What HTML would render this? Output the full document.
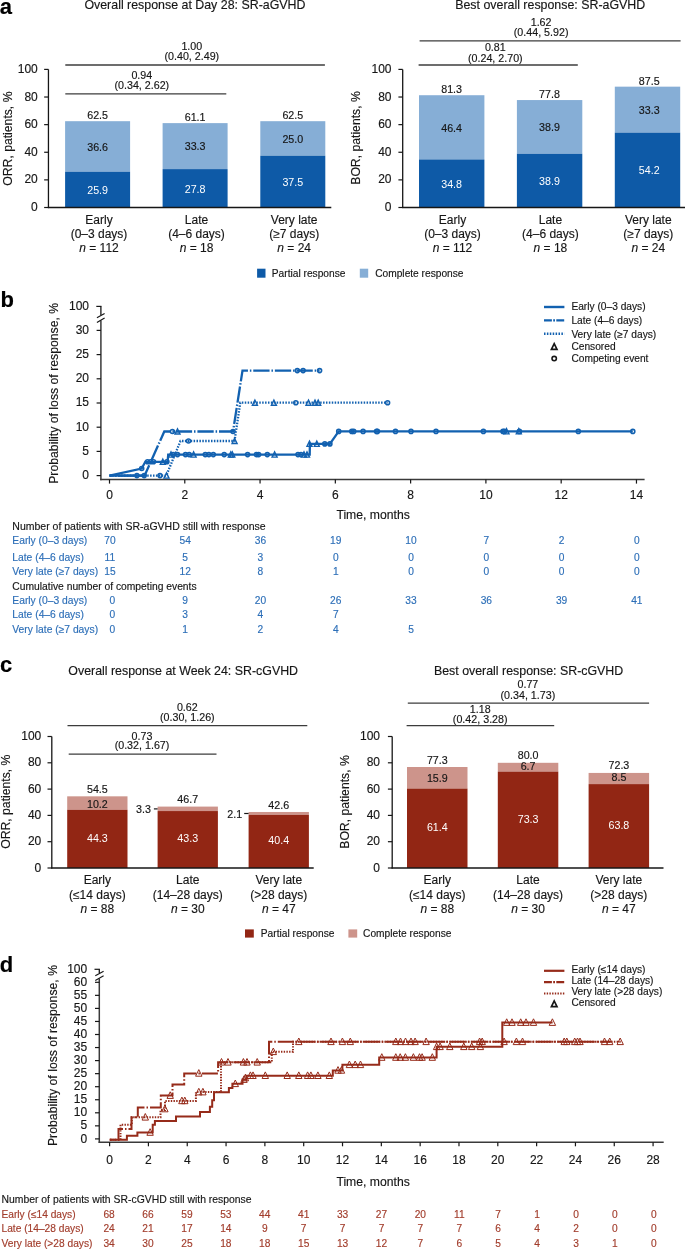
<!DOCTYPE html>
<html><head><meta charset="utf-8"><title>Figure</title>
<style>
html,body{margin:0;padding:0;background:#fff;width:685px;height:1249px;overflow:hidden}
svg{display:block;will-change:transform}
text{font-family:"Liberation Sans", sans-serif;stroke-width:0.15px}
</style></head><body>
<svg width="685" height="1249" viewBox="0 0 685 1249" font-family='"Liberation Sans", sans-serif'>
<rect width="685" height="1249" fill="#fff"/>
<text x="-0.2" y="13.9" font-size="22" font-weight="bold" fill="#000" stroke="#000">a</text>
<text x="84.4" y="9.1" font-size="12.4" fill="#161616" stroke="#161616">Overall response at Day 28: SR-aGVHD</text>
<line x1="48.45" y1="69.4" x2="48.45" y2="208.1" stroke="#161616" stroke-width="1.3"/>
<line x1="44.15" y1="207.5" x2="48.45" y2="207.5" stroke="#161616" stroke-width="1.2"/>
<text x="37.8" y="211.1" font-size="12" text-anchor="end" fill="#161616" stroke="#161616">0</text>
<line x1="44.15" y1="179.88" x2="48.45" y2="179.88" stroke="#161616" stroke-width="1.2"/>
<text x="37.8" y="183.48" font-size="12" text-anchor="end" fill="#161616" stroke="#161616">20</text>
<line x1="44.15" y1="152.26" x2="48.45" y2="152.26" stroke="#161616" stroke-width="1.2"/>
<text x="37.8" y="155.86" font-size="12" text-anchor="end" fill="#161616" stroke="#161616">40</text>
<line x1="44.15" y1="124.64" x2="48.45" y2="124.64" stroke="#161616" stroke-width="1.2"/>
<text x="37.8" y="128.24" font-size="12" text-anchor="end" fill="#161616" stroke="#161616">60</text>
<line x1="44.15" y1="97.02" x2="48.45" y2="97.02" stroke="#161616" stroke-width="1.2"/>
<text x="37.8" y="100.62" font-size="12" text-anchor="end" fill="#161616" stroke="#161616">80</text>
<line x1="44.15" y1="69.4" x2="48.45" y2="69.4" stroke="#161616" stroke-width="1.2"/>
<text x="37.8" y="73" font-size="12" text-anchor="end" fill="#161616" stroke="#161616">100</text>
<text transform="translate(12 138.6) rotate(-90)" font-size="12.2" text-anchor="middle" fill="#161616" stroke="#161616">ORR, patients, %</text>
<rect x="65.1" y="121.19" width="65" height="50.54" fill="#86aed6"/>
<rect x="65.1" y="171.73" width="65" height="35.77" fill="#0e5aa7"/>
<rect x="162.6" y="123.12" width="65" height="45.99" fill="#86aed6"/>
<rect x="162.6" y="169.11" width="65" height="38.39" fill="#0e5aa7"/>
<rect x="260.3" y="121.19" width="65" height="34.52" fill="#86aed6"/>
<rect x="260.3" y="155.71" width="65" height="51.79" fill="#0e5aa7"/>
<line x1="47.85" y1="207.5" x2="331.3" y2="207.5" stroke="#161616" stroke-width="1.3"/>
<text transform="matrix(1.030 0 0 1 97.6 119.19)" font-size="10.4" text-anchor="middle" fill="#161616" stroke="#161616">62.5</text>
<text transform="matrix(1.030 0 0 1 97.6 150.66)" font-size="10.4" text-anchor="middle" fill="#161616" stroke="#161616">36.6</text>
<text transform="matrix(1.030 0 0 1 97.6 193.92)" font-size="10.4" text-anchor="middle" fill="#ffffff" stroke="#ffffff" style="stroke-width:0">25.9</text>
<text transform="matrix(1.030 0 0 1 195.1 121.12)" font-size="10.4" text-anchor="middle" fill="#161616" stroke="#161616">61.1</text>
<text transform="matrix(1.030 0 0 1 195.1 150.31)" font-size="10.4" text-anchor="middle" fill="#161616" stroke="#161616">33.3</text>
<text transform="matrix(1.030 0 0 1 195.1 192.6)" font-size="10.4" text-anchor="middle" fill="#ffffff" stroke="#ffffff" style="stroke-width:0">27.8</text>
<text transform="matrix(1.030 0 0 1 292.8 119.19)" font-size="10.4" text-anchor="middle" fill="#161616" stroke="#161616">62.5</text>
<text transform="matrix(1.030 0 0 1 292.8 142.65)" font-size="10.4" text-anchor="middle" fill="#161616" stroke="#161616">25.0</text>
<text transform="matrix(1.030 0 0 1 292.8 185.91)" font-size="10.4" text-anchor="middle" fill="#ffffff" stroke="#ffffff" style="stroke-width:0">37.5</text>
<text x="99" y="223.8" font-size="12" text-anchor="middle" fill="#161616" stroke="#161616">Early</text>
<text x="99" y="237.7" font-size="12" text-anchor="middle" fill="#161616" stroke="#161616">(0–3 days)</text>
<text x="99" y="251.6" font-size="12" text-anchor="middle" fill="#161616" stroke="#161616"><tspan font-style="italic">n</tspan> = 112</text>
<text x="196.5" y="223.8" font-size="12" text-anchor="middle" fill="#161616" stroke="#161616">Late</text>
<text x="196.5" y="237.7" font-size="12" text-anchor="middle" fill="#161616" stroke="#161616">(4–6 days)</text>
<text x="196.5" y="251.6" font-size="12" text-anchor="middle" fill="#161616" stroke="#161616"><tspan font-style="italic">n</tspan> = 18</text>
<text x="294.2" y="223.8" font-size="12" text-anchor="middle" fill="#161616" stroke="#161616">Very late</text>
<text x="294.2" y="237.7" font-size="12" text-anchor="middle" fill="#161616" stroke="#161616">(≥7 days)</text>
<text x="294.2" y="251.6" font-size="12" text-anchor="middle" fill="#161616" stroke="#161616"><tspan font-style="italic">n</tspan> = 24</text>
<line x1="65.3" y1="65" x2="324.9" y2="65" stroke="#3c3c3c" stroke-width="1.3"/>
<text transform="matrix(1.030 0 0 1 191.8 50.3)" font-size="10.4" text-anchor="middle" fill="#161616" stroke="#161616">1.00</text>
<text transform="matrix(1.030 0 0 1 191.8 59.9)" font-size="10.4" text-anchor="middle" fill="#161616" stroke="#161616">(0.40, 2.49)</text>
<line x1="65.3" y1="93.9" x2="226.3" y2="93.9" stroke="#3c3c3c" stroke-width="1.3"/>
<text transform="matrix(1.030 0 0 1 141.8 78.9)" font-size="10.4" text-anchor="middle" fill="#161616" stroke="#161616">0.94</text>
<text transform="matrix(1.030 0 0 1 141.8 88.5)" font-size="10.4" text-anchor="middle" fill="#161616" stroke="#161616">(0.34, 2.62)</text>
<text x="455.2" y="9.1" font-size="12.4" fill="#161616" stroke="#161616">Best overall response: SR-aGVHD</text>
<line x1="402.7" y1="69.4" x2="402.7" y2="208.1" stroke="#161616" stroke-width="1.3"/>
<line x1="398.4" y1="207.5" x2="402.7" y2="207.5" stroke="#161616" stroke-width="1.2"/>
<text x="391.5" y="211.1" font-size="12" text-anchor="end" fill="#161616" stroke="#161616">0</text>
<line x1="398.4" y1="179.88" x2="402.7" y2="179.88" stroke="#161616" stroke-width="1.2"/>
<text x="391.5" y="183.48" font-size="12" text-anchor="end" fill="#161616" stroke="#161616">20</text>
<line x1="398.4" y1="152.26" x2="402.7" y2="152.26" stroke="#161616" stroke-width="1.2"/>
<text x="391.5" y="155.86" font-size="12" text-anchor="end" fill="#161616" stroke="#161616">40</text>
<line x1="398.4" y1="124.64" x2="402.7" y2="124.64" stroke="#161616" stroke-width="1.2"/>
<text x="391.5" y="128.24" font-size="12" text-anchor="end" fill="#161616" stroke="#161616">60</text>
<line x1="398.4" y1="97.02" x2="402.7" y2="97.02" stroke="#161616" stroke-width="1.2"/>
<text x="391.5" y="100.62" font-size="12" text-anchor="end" fill="#161616" stroke="#161616">80</text>
<line x1="398.4" y1="69.4" x2="402.7" y2="69.4" stroke="#161616" stroke-width="1.2"/>
<text x="391.5" y="73" font-size="12" text-anchor="end" fill="#161616" stroke="#161616">100</text>
<text transform="translate(359.8 138) rotate(-90)" font-size="12.2" text-anchor="middle" fill="#161616" stroke="#161616">BOR, patients, %</text>
<rect x="419" y="95.22" width="65.4" height="64.22" fill="#86aed6"/>
<rect x="419" y="159.44" width="65.4" height="48.06" fill="#0e5aa7"/>
<rect x="516.9" y="100.06" width="65.4" height="53.72" fill="#86aed6"/>
<rect x="516.9" y="153.78" width="65.4" height="53.72" fill="#0e5aa7"/>
<rect x="614.8" y="86.66" width="65.4" height="45.99" fill="#86aed6"/>
<rect x="614.8" y="132.65" width="65.4" height="74.85" fill="#0e5aa7"/>
<line x1="402.1" y1="207.5" x2="685" y2="207.5" stroke="#161616" stroke-width="1.3"/>
<text transform="matrix(1.030 0 0 1 451.6 93.22)" font-size="10.4" text-anchor="middle" fill="#161616" stroke="#161616">81.3</text>
<text transform="matrix(1.030 0 0 1 451.6 131.53)" font-size="10.4" text-anchor="middle" fill="#161616" stroke="#161616">46.4</text>
<text transform="matrix(1.030 0 0 1 451.6 187.77)" font-size="10.4" text-anchor="middle" fill="#ffffff" stroke="#ffffff" style="stroke-width:0">34.8</text>
<text transform="matrix(1.030 0 0 1 549.5 98.06)" font-size="10.4" text-anchor="middle" fill="#161616" stroke="#161616">77.8</text>
<text transform="matrix(1.030 0 0 1 549.5 131.12)" font-size="10.4" text-anchor="middle" fill="#161616" stroke="#161616">38.9</text>
<text transform="matrix(1.030 0 0 1 549.5 184.94)" font-size="10.4" text-anchor="middle" fill="#ffffff" stroke="#ffffff" style="stroke-width:0">38.9</text>
<text transform="matrix(1.030 0 0 1 649.2 84.66)" font-size="10.4" text-anchor="middle" fill="#161616" stroke="#161616">87.5</text>
<text transform="matrix(1.030 0 0 1 649.2 113.86)" font-size="10.4" text-anchor="middle" fill="#161616" stroke="#161616">33.3</text>
<text transform="matrix(1.030 0 0 1 649.2 174.37)" font-size="10.4" text-anchor="middle" fill="#ffffff" stroke="#ffffff" style="stroke-width:0">54.2</text>
<text x="452.5" y="223.8" font-size="12" text-anchor="middle" fill="#161616" stroke="#161616">Early</text>
<text x="452.5" y="237.7" font-size="12" text-anchor="middle" fill="#161616" stroke="#161616">(0–3 days)</text>
<text x="452.5" y="251.6" font-size="12" text-anchor="middle" fill="#161616" stroke="#161616"><tspan font-style="italic">n</tspan> = 112</text>
<text x="550.4" y="223.8" font-size="12" text-anchor="middle" fill="#161616" stroke="#161616">Late</text>
<text x="550.4" y="237.7" font-size="12" text-anchor="middle" fill="#161616" stroke="#161616">(4–6 days)</text>
<text x="550.4" y="251.6" font-size="12" text-anchor="middle" fill="#161616" stroke="#161616"><tspan font-style="italic">n</tspan> = 18</text>
<text x="648.3" y="223.8" font-size="12" text-anchor="middle" fill="#161616" stroke="#161616">Very late</text>
<text x="648.3" y="237.7" font-size="12" text-anchor="middle" fill="#161616" stroke="#161616">(≥7 days)</text>
<text x="648.3" y="251.6" font-size="12" text-anchor="middle" fill="#161616" stroke="#161616"><tspan font-style="italic">n</tspan> = 24</text>
<line x1="419.6" y1="40.8" x2="680.6" y2="40.8" stroke="#3c3c3c" stroke-width="1.3"/>
<text transform="matrix(1.030 0 0 1 541.1 26)" font-size="10.4" text-anchor="middle" fill="#161616" stroke="#161616">1.62</text>
<text transform="matrix(1.030 0 0 1 541.1 36.2)" font-size="10.4" text-anchor="middle" fill="#161616" stroke="#161616">(0.44, 5.92)</text>
<line x1="418.6" y1="65" x2="577.8" y2="65" stroke="#3c3c3c" stroke-width="1.3"/>
<text transform="matrix(1.030 0 0 1 495.3 51.3)" font-size="10.4" text-anchor="middle" fill="#161616" stroke="#161616">0.81</text>
<text transform="matrix(1.030 0 0 1 495.3 61.6)" font-size="10.4" text-anchor="middle" fill="#161616" stroke="#161616">(0.24, 2.70)</text>
<rect x="257.1" y="268.7" width="8.4" height="9" fill="#0e5aa7"/>
<text x="271.8" y="276.7" font-size="10.2" fill="#161616" stroke="#161616">Partial response</text>
<rect x="359.8" y="268.7" width="8.4" height="9" fill="#86aed6"/>
<text x="375.2" y="276.7" font-size="10.2" fill="#161616" stroke="#161616">Complete response</text>
<text x="0" y="672.3" font-size="22" font-weight="bold" fill="#000" stroke="#000">c</text>
<text x="68.3" y="674.8" font-size="12.4" fill="#161616" stroke="#161616">Overall response at Week 24: SR-cGVHD</text>
<line x1="51.8" y1="736.5" x2="51.8" y2="868.6" stroke="#161616" stroke-width="1.3"/>
<line x1="47.5" y1="868" x2="51.8" y2="868" stroke="#161616" stroke-width="1.2"/>
<text x="41.3" y="871.6" font-size="12" text-anchor="end" fill="#161616" stroke="#161616">0</text>
<line x1="47.5" y1="841.7" x2="51.8" y2="841.7" stroke="#161616" stroke-width="1.2"/>
<text x="41.3" y="845.3" font-size="12" text-anchor="end" fill="#161616" stroke="#161616">20</text>
<line x1="47.5" y1="815.4" x2="51.8" y2="815.4" stroke="#161616" stroke-width="1.2"/>
<text x="41.3" y="819" font-size="12" text-anchor="end" fill="#161616" stroke="#161616">40</text>
<line x1="47.5" y1="789.1" x2="51.8" y2="789.1" stroke="#161616" stroke-width="1.2"/>
<text x="41.3" y="792.7" font-size="12" text-anchor="end" fill="#161616" stroke="#161616">60</text>
<line x1="47.5" y1="762.8" x2="51.8" y2="762.8" stroke="#161616" stroke-width="1.2"/>
<text x="41.3" y="766.4" font-size="12" text-anchor="end" fill="#161616" stroke="#161616">80</text>
<line x1="47.5" y1="736.5" x2="51.8" y2="736.5" stroke="#161616" stroke-width="1.2"/>
<text x="41.3" y="740.1" font-size="12" text-anchor="end" fill="#161616" stroke="#161616">100</text>
<text transform="translate(9.6 801.7) rotate(-90)" font-size="12.2" text-anchor="middle" fill="#161616" stroke="#161616">ORR, patients, %</text>
<rect x="67.2" y="796.33" width="60.3" height="13.41" fill="#cd948b"/>
<rect x="67.2" y="809.75" width="60.3" height="58.25" fill="#922614"/>
<rect x="157.6" y="806.59" width="60.3" height="4.47" fill="#cd948b"/>
<rect x="157.6" y="811.06" width="60.3" height="56.94" fill="#922614"/>
<rect x="248.6" y="811.98" width="60.3" height="2.89" fill="#cd948b"/>
<rect x="248.6" y="814.87" width="60.3" height="53.13" fill="#922614"/>
<line x1="51.2" y1="868" x2="313.7" y2="868" stroke="#161616" stroke-width="1.3"/>
<text transform="matrix(1.030 0 0 1 97.35 792.93)" font-size="10.4" text-anchor="middle" fill="#161616" stroke="#161616">54.5</text>
<text transform="matrix(1.030 0 0 1 97.35 841.57)" font-size="10.4" text-anchor="middle" fill="#ffffff" stroke="#ffffff" style="stroke-width:0">44.3</text>
<text transform="matrix(1.030 0 0 1 187.75 803.19)" font-size="10.4" text-anchor="middle" fill="#161616" stroke="#161616">46.7</text>
<text transform="matrix(1.030 0 0 1 187.75 842.23)" font-size="10.4" text-anchor="middle" fill="#ffffff" stroke="#ffffff" style="stroke-width:0">43.3</text>
<text transform="matrix(1.030 0 0 1 278.75 808.58)" font-size="10.4" text-anchor="middle" fill="#161616" stroke="#161616">42.6</text>
<text transform="matrix(1.030 0 0 1 278.75 844.14)" font-size="10.4" text-anchor="middle" fill="#ffffff" stroke="#ffffff" style="stroke-width:0">40.4</text>
<text transform="matrix(1.030 0 0 1 97.35 808.1)" font-size="10.4" text-anchor="middle" fill="#161616" stroke="#161616">10.2</text>
<text transform="matrix(1.030 0 0 1 150.9 813.1)" font-size="10.4" text-anchor="end" fill="#161616" stroke="#161616">3.3</text>
<text transform="matrix(1.030 0 0 1 242.2 817.8)" font-size="10.4" text-anchor="end" fill="#161616" stroke="#161616">2.1</text>
<text x="97.35" y="884.4" font-size="12" text-anchor="middle" fill="#161616" stroke="#161616">Early</text>
<text x="97.35" y="898.7" font-size="12" text-anchor="middle" fill="#161616" stroke="#161616">(≤14 days)</text>
<text x="97.35" y="913" font-size="12" text-anchor="middle" fill="#161616" stroke="#161616"><tspan font-style="italic">n</tspan> = 88</text>
<text x="187.75" y="884.4" font-size="12" text-anchor="middle" fill="#161616" stroke="#161616">Late</text>
<text x="187.75" y="898.7" font-size="12" text-anchor="middle" fill="#161616" stroke="#161616">(14–28 days)</text>
<text x="187.75" y="913" font-size="12" text-anchor="middle" fill="#161616" stroke="#161616"><tspan font-style="italic">n</tspan> = 30</text>
<text x="278.75" y="884.4" font-size="12" text-anchor="middle" fill="#161616" stroke="#161616">Very late</text>
<text x="278.75" y="898.7" font-size="12" text-anchor="middle" fill="#161616" stroke="#161616">(>28 days)</text>
<text x="278.75" y="913" font-size="12" text-anchor="middle" fill="#161616" stroke="#161616"><tspan font-style="italic">n</tspan> = 47</text>
<line x1="67.5" y1="725.6" x2="307.3" y2="725.6" stroke="#3c3c3c" stroke-width="1.3"/>
<text transform="matrix(1.030 0 0 1 187.3 711)" font-size="10.4" text-anchor="middle" fill="#161616" stroke="#161616">0.62</text>
<text transform="matrix(1.030 0 0 1 187.3 720.7)" font-size="10.4" text-anchor="middle" fill="#161616" stroke="#161616">(0.30, 1.26)</text>
<line x1="68.7" y1="754.2" x2="216.5" y2="754.2" stroke="#3c3c3c" stroke-width="1.3"/>
<text transform="matrix(1.030 0 0 1 142 739.8)" font-size="10.4" text-anchor="middle" fill="#161616" stroke="#161616">0.73</text>
<text transform="matrix(1.030 0 0 1 142 748.7)" font-size="10.4" text-anchor="middle" fill="#161616" stroke="#161616">(0.32, 1.67)</text>
<line x1="153.9" y1="808.9" x2="157.6" y2="808.9" stroke="#161616" stroke-width="1.2"/>
<line x1="244.2" y1="813.5" x2="248.6" y2="813.5" stroke="#161616" stroke-width="1.2"/>
<text x="433.9" y="674.8" font-size="12.4" fill="#161616" stroke="#161616">Best overall response: SR-cGVHD</text>
<line x1="392.2" y1="736.5" x2="392.2" y2="868.6" stroke="#161616" stroke-width="1.3"/>
<line x1="387.9" y1="868" x2="392.2" y2="868" stroke="#161616" stroke-width="1.2"/>
<text x="380" y="871.6" font-size="12" text-anchor="end" fill="#161616" stroke="#161616">0</text>
<line x1="387.9" y1="841.7" x2="392.2" y2="841.7" stroke="#161616" stroke-width="1.2"/>
<text x="380" y="845.3" font-size="12" text-anchor="end" fill="#161616" stroke="#161616">20</text>
<line x1="387.9" y1="815.4" x2="392.2" y2="815.4" stroke="#161616" stroke-width="1.2"/>
<text x="380" y="819" font-size="12" text-anchor="end" fill="#161616" stroke="#161616">40</text>
<line x1="387.9" y1="789.1" x2="392.2" y2="789.1" stroke="#161616" stroke-width="1.2"/>
<text x="380" y="792.7" font-size="12" text-anchor="end" fill="#161616" stroke="#161616">60</text>
<line x1="387.9" y1="762.8" x2="392.2" y2="762.8" stroke="#161616" stroke-width="1.2"/>
<text x="380" y="766.4" font-size="12" text-anchor="end" fill="#161616" stroke="#161616">80</text>
<line x1="387.9" y1="736.5" x2="392.2" y2="736.5" stroke="#161616" stroke-width="1.2"/>
<text x="380" y="740.1" font-size="12" text-anchor="end" fill="#161616" stroke="#161616">100</text>
<text transform="translate(349.2 802) rotate(-90)" font-size="12.2" text-anchor="middle" fill="#161616" stroke="#161616">BOR, patients, %</text>
<rect x="407" y="767.01" width="60.5" height="21.57" fill="#cd948b"/>
<rect x="407" y="788.57" width="60.5" height="79.43" fill="#922614"/>
<rect x="497.8" y="762.8" width="60.5" height="8.81" fill="#cd948b"/>
<rect x="497.8" y="771.61" width="60.5" height="96.39" fill="#922614"/>
<rect x="588.6" y="772.93" width="60.5" height="11.18" fill="#cd948b"/>
<rect x="588.6" y="784.1" width="60.5" height="83.9" fill="#922614"/>
<line x1="391.6" y1="868" x2="663.5" y2="868" stroke="#161616" stroke-width="1.3"/>
<text transform="matrix(1.030 0 0 1 437.3 764.2)" font-size="10.4" text-anchor="middle" fill="#161616" stroke="#161616">77.3</text>
<text transform="matrix(1.030 0 0 1 437.3 781.5)" font-size="10.4" text-anchor="middle" fill="#161616" stroke="#161616">15.9</text>
<text transform="matrix(1.030 0 0 1 437.3 831)" font-size="10.4" text-anchor="middle" fill="#fff" stroke="#fff" style="stroke-width:0">61.4</text>
<text transform="matrix(1.030 0 0 1 528.1 759.3)" font-size="10.4" text-anchor="middle" fill="#161616" stroke="#161616">80.0</text>
<text transform="matrix(1.030 0 0 1 528.1 770.4)" font-size="10.4" text-anchor="middle" fill="#161616" stroke="#161616">6.7</text>
<text transform="matrix(1.030 0 0 1 528.1 822.6)" font-size="10.4" text-anchor="middle" fill="#fff" stroke="#fff" style="stroke-width:0">73.3</text>
<text transform="matrix(1.030 0 0 1 618.9 769.2)" font-size="10.4" text-anchor="middle" fill="#161616" stroke="#161616">72.3</text>
<text transform="matrix(1.030 0 0 1 618.9 781.2)" font-size="10.4" text-anchor="middle" fill="#161616" stroke="#161616">8.5</text>
<text transform="matrix(1.030 0 0 1 618.9 829)" font-size="10.4" text-anchor="middle" fill="#fff" stroke="#fff" style="stroke-width:0">63.8</text>
<text x="437.25" y="884.4" font-size="12" text-anchor="middle" fill="#161616" stroke="#161616">Early</text>
<text x="437.25" y="898.7" font-size="12" text-anchor="middle" fill="#161616" stroke="#161616">(≤14 days)</text>
<text x="437.25" y="913" font-size="12" text-anchor="middle" fill="#161616" stroke="#161616"><tspan font-style="italic">n</tspan> = 88</text>
<text x="528.05" y="884.4" font-size="12" text-anchor="middle" fill="#161616" stroke="#161616">Late</text>
<text x="528.05" y="898.7" font-size="12" text-anchor="middle" fill="#161616" stroke="#161616">(14–28 days)</text>
<text x="528.05" y="913" font-size="12" text-anchor="middle" fill="#161616" stroke="#161616"><tspan font-style="italic">n</tspan> = 30</text>
<text x="618.85" y="884.4" font-size="12" text-anchor="middle" fill="#161616" stroke="#161616">Very late</text>
<text x="618.85" y="898.7" font-size="12" text-anchor="middle" fill="#161616" stroke="#161616">(>28 days)</text>
<text x="618.85" y="913" font-size="12" text-anchor="middle" fill="#161616" stroke="#161616"><tspan font-style="italic">n</tspan> = 47</text>
<line x1="407.8" y1="703.2" x2="649.1" y2="703.2" stroke="#3c3c3c" stroke-width="1.3"/>
<text transform="matrix(1.030 0 0 1 527.9 688.4)" font-size="10.4" text-anchor="middle" fill="#161616" stroke="#161616">0.77</text>
<text transform="matrix(1.030 0 0 1 527.9 698.6)" font-size="10.4" text-anchor="middle" fill="#161616" stroke="#161616">(0.34, 1.73)</text>
<line x1="406.6" y1="725.7" x2="554.2" y2="725.7" stroke="#3c3c3c" stroke-width="1.3"/>
<text transform="matrix(1.030 0 0 1 480.2 713.3)" font-size="10.4" text-anchor="middle" fill="#161616" stroke="#161616">1.18</text>
<text transform="matrix(1.030 0 0 1 480.2 722.5)" font-size="10.4" text-anchor="middle" fill="#161616" stroke="#161616">(0.42, 3.28)</text>
<rect x="245" y="929.4" width="8.8" height="8.2" fill="#922614"/>
<text x="260.8" y="936.8" font-size="10.2" fill="#161616" stroke="#161616">Partial response</text>
<rect x="348.4" y="929.4" width="8.8" height="8.2" fill="#cd948b"/>
<text x="363.1" y="936.8" font-size="10.2" fill="#161616" stroke="#161616">Complete response</text>
<text x="0.4" y="307.3" font-size="22" font-weight="bold" fill="#000" stroke="#000">b</text>
<line x1="100.9" y1="306.4" x2="100.9" y2="315" stroke="#161616" stroke-width="1.3"/>
<line x1="100.9" y1="320.4" x2="100.9" y2="480.3" stroke="#3a3a3a" stroke-width="1.5"/>
<line x1="96.9" y1="317.8" x2="104.6" y2="313.4" stroke="#161616" stroke-width="1.2"/>
<line x1="96.9" y1="322.4" x2="104.6" y2="317.9" stroke="#161616" stroke-width="1.2"/>
<line x1="96.3" y1="306.4" x2="101.5" y2="306.4" stroke="#161616" stroke-width="1.2"/>
<text x="89" y="310.1" font-size="12" text-anchor="end" fill="#161616" stroke="#161616">100</text>
<line x1="96.6" y1="475.6" x2="100.9" y2="475.6" stroke="#161616" stroke-width="1.2"/>
<text x="89" y="479" font-size="12" text-anchor="end" fill="#161616" stroke="#161616">0</text>
<line x1="96.6" y1="451.4" x2="100.9" y2="451.4" stroke="#161616" stroke-width="1.2"/>
<text x="89" y="454.8" font-size="12" text-anchor="end" fill="#161616" stroke="#161616">5</text>
<line x1="96.6" y1="427.2" x2="100.9" y2="427.2" stroke="#161616" stroke-width="1.2"/>
<text x="89" y="430.6" font-size="12" text-anchor="end" fill="#161616" stroke="#161616">10</text>
<line x1="96.6" y1="403" x2="100.9" y2="403" stroke="#161616" stroke-width="1.2"/>
<text x="89" y="406.4" font-size="12" text-anchor="end" fill="#161616" stroke="#161616">15</text>
<line x1="96.6" y1="378.8" x2="100.9" y2="378.8" stroke="#161616" stroke-width="1.2"/>
<text x="89" y="382.2" font-size="12" text-anchor="end" fill="#161616" stroke="#161616">20</text>
<line x1="96.6" y1="354.6" x2="100.9" y2="354.6" stroke="#161616" stroke-width="1.2"/>
<text x="89" y="358" font-size="12" text-anchor="end" fill="#161616" stroke="#161616">25</text>
<line x1="96.6" y1="330.4" x2="100.9" y2="330.4" stroke="#161616" stroke-width="1.2"/>
<text x="89" y="333.8" font-size="12" text-anchor="end" fill="#161616" stroke="#161616">30</text>
<text transform="translate(57.5 393.3) rotate(-90)" font-size="12.25" text-anchor="middle" fill="#161616" stroke="#161616">Probability of loss of response, %</text>
<line x1="100.2" y1="479.6" x2="644.6" y2="479.6" stroke="#3a3a3a" stroke-width="1.5"/>
<line x1="109.5" y1="479.6" x2="109.5" y2="483.6" stroke="#161616" stroke-width="1.2"/>
<text x="109.5" y="499.1" font-size="12" text-anchor="middle" fill="#161616" stroke="#161616">0</text>
<line x1="184.78" y1="479.6" x2="184.78" y2="483.6" stroke="#161616" stroke-width="1.2"/>
<text x="184.78" y="499.1" font-size="12" text-anchor="middle" fill="#161616" stroke="#161616">2</text>
<line x1="260.06" y1="479.6" x2="260.06" y2="483.6" stroke="#161616" stroke-width="1.2"/>
<text x="260.06" y="499.1" font-size="12" text-anchor="middle" fill="#161616" stroke="#161616">4</text>
<line x1="335.34" y1="479.6" x2="335.34" y2="483.6" stroke="#161616" stroke-width="1.2"/>
<text x="335.34" y="499.1" font-size="12" text-anchor="middle" fill="#161616" stroke="#161616">6</text>
<line x1="410.62" y1="479.6" x2="410.62" y2="483.6" stroke="#161616" stroke-width="1.2"/>
<text x="410.62" y="499.1" font-size="12" text-anchor="middle" fill="#161616" stroke="#161616">8</text>
<line x1="485.9" y1="479.6" x2="485.9" y2="483.6" stroke="#161616" stroke-width="1.2"/>
<text x="485.9" y="499.1" font-size="12" text-anchor="middle" fill="#161616" stroke="#161616">10</text>
<line x1="561.18" y1="479.6" x2="561.18" y2="483.6" stroke="#161616" stroke-width="1.2"/>
<text x="561.18" y="499.1" font-size="12" text-anchor="middle" fill="#161616" stroke="#161616">12</text>
<line x1="636.46" y1="479.6" x2="636.46" y2="483.6" stroke="#161616" stroke-width="1.2"/>
<text x="636.46" y="499.1" font-size="12" text-anchor="middle" fill="#161616" stroke="#161616">14</text>
<text x="336.4" y="518.6" font-size="12.2" fill="#161616" stroke="#161616">Time, months</text>
<polyline points="109.5,475.6 166.3,475.6 180.5,441 234.5,441 240.3,402.7 387.6,402.7" fill="none" stroke="#1261b0" stroke-width="2.3" stroke-dasharray="1.5 1.4" stroke-linejoin="miter"/>
<polyline points="109.5,475.6 144.6,475.6 164.3,431.5 233,431.5 242.5,370.6 319.6,370.6" fill="none" stroke="#1261b0" stroke-width="2.3" stroke-dasharray="16.3 1.9 1.5 1.9" stroke-linejoin="miter" stroke-dashoffset="13.1"/>
<polyline points="109.5,475.6 141.7,468.5 145.3,461.8 167.6,461.8 168.2,454.6 309.7,454.6 309.9,443.9 329.9,443.9 338.7,431.4 632.8,431.4" fill="none" stroke="#1261b0" stroke-width="2.3" stroke-linejoin="miter"/>
<polyline points="109.5,475.6 144.4,475.6" fill="none" stroke="#1261b0" stroke-width="2.3" stroke-linejoin="miter"/>
<circle cx="136.9" cy="475.6" r="2" fill="none" stroke="#1261b0" stroke-width="1.6"/>
<circle cx="144.2" cy="475.6" r="2" fill="none" stroke="#1261b0" stroke-width="1.6"/>
<circle cx="160" cy="475.6" r="2" fill="none" stroke="#1261b0" stroke-width="1.6"/>
<polygon points="164,478.1 169,478.1 166.5,472.9" fill="none" stroke="#1261b0" stroke-width="1.4" stroke-linejoin="miter"/>
<circle cx="141.7" cy="468.5" r="2" fill="none" stroke="#1261b0" stroke-width="1.6"/>
<circle cx="147.5" cy="461.8" r="2" fill="none" stroke="#1261b0" stroke-width="1.6"/>
<circle cx="150.5" cy="461.8" r="2" fill="none" stroke="#1261b0" stroke-width="1.6"/>
<circle cx="153.5" cy="461.8" r="2" fill="none" stroke="#1261b0" stroke-width="1.6"/>
<polygon points="160.3,464.3 165.3,464.3 162.8,459.1" fill="none" stroke="#1261b0" stroke-width="1.4" stroke-linejoin="miter"/>
<circle cx="166.9" cy="461.8" r="2" fill="none" stroke="#1261b0" stroke-width="1.6"/>
<circle cx="173.1" cy="454.6" r="2" fill="none" stroke="#1261b0" stroke-width="1.6"/>
<circle cx="177.5" cy="454.6" r="2" fill="none" stroke="#1261b0" stroke-width="1.6"/>
<circle cx="185.5" cy="454.6" r="2" fill="none" stroke="#1261b0" stroke-width="1.6"/>
<circle cx="189.2" cy="454.6" r="2" fill="none" stroke="#1261b0" stroke-width="1.6"/>
<circle cx="205.3" cy="454.6" r="2" fill="none" stroke="#1261b0" stroke-width="1.6"/>
<circle cx="208.9" cy="454.6" r="2" fill="none" stroke="#1261b0" stroke-width="1.6"/>
<circle cx="213.3" cy="454.6" r="2" fill="none" stroke="#1261b0" stroke-width="1.6"/>
<circle cx="224.2" cy="454.6" r="2" fill="none" stroke="#1261b0" stroke-width="1.6"/>
<circle cx="247.6" cy="454.6" r="2" fill="none" stroke="#1261b0" stroke-width="1.6"/>
<circle cx="256.4" cy="454.6" r="2" fill="none" stroke="#1261b0" stroke-width="1.6"/>
<circle cx="258.6" cy="454.6" r="2" fill="none" stroke="#1261b0" stroke-width="1.6"/>
<circle cx="267.3" cy="454.6" r="2" fill="none" stroke="#1261b0" stroke-width="1.6"/>
<circle cx="298" cy="454.6" r="2" fill="none" stroke="#1261b0" stroke-width="1.6"/>
<circle cx="301" cy="454.6" r="2" fill="none" stroke="#1261b0" stroke-width="1.6"/>
<polygon points="168.5,457.1 173.5,457.1 171,451.9" fill="none" stroke="#1261b0" stroke-width="1.4" stroke-linejoin="miter"/>
<polygon points="191.1,457.1 196.1,457.1 193.6,451.9" fill="none" stroke="#1261b0" stroke-width="1.4" stroke-linejoin="miter"/>
<polygon points="228.3,457.1 233.3,457.1 230.8,451.9" fill="none" stroke="#1261b0" stroke-width="1.4" stroke-linejoin="miter"/>
<polygon points="229.8,457.1 234.8,457.1 232.3,451.9" fill="none" stroke="#1261b0" stroke-width="1.4" stroke-linejoin="miter"/>
<polygon points="272.1,457.1 277.1,457.1 274.6,451.9" fill="none" stroke="#1261b0" stroke-width="1.4" stroke-linejoin="miter"/>
<polygon points="301.5,457.1 306.5,457.1 304,451.9" fill="none" stroke="#1261b0" stroke-width="1.4" stroke-linejoin="miter"/>
<polygon points="304.5,457.1 309.5,457.1 307,451.9" fill="none" stroke="#1261b0" stroke-width="1.4" stroke-linejoin="miter"/>
<polygon points="307,446.4 312,446.4 309.5,441.2" fill="none" stroke="#1261b0" stroke-width="1.4" stroke-linejoin="miter"/>
<polygon points="314.3,446.4 319.3,446.4 316.8,441.2" fill="none" stroke="#1261b0" stroke-width="1.4" stroke-linejoin="miter"/>
<circle cx="324.8" cy="443.9" r="2" fill="none" stroke="#1261b0" stroke-width="1.6"/>
<circle cx="329.9" cy="443.9" r="2" fill="none" stroke="#1261b0" stroke-width="1.6"/>
<circle cx="338.7" cy="431.4" r="2" fill="none" stroke="#1261b0" stroke-width="1.6"/>
<circle cx="351.8" cy="431.4" r="2" fill="none" stroke="#1261b0" stroke-width="1.6"/>
<circle cx="353.7" cy="431.4" r="2" fill="none" stroke="#1261b0" stroke-width="1.6"/>
<circle cx="363.1" cy="431.4" r="2" fill="none" stroke="#1261b0" stroke-width="1.6"/>
<circle cx="376.6" cy="431.4" r="2" fill="none" stroke="#1261b0" stroke-width="1.6"/>
<circle cx="377.4" cy="431.4" r="2" fill="none" stroke="#1261b0" stroke-width="1.6"/>
<circle cx="395.5" cy="431.4" r="2" fill="none" stroke="#1261b0" stroke-width="1.6"/>
<circle cx="411" cy="431.4" r="2" fill="none" stroke="#1261b0" stroke-width="1.6"/>
<circle cx="436" cy="431.4" r="2" fill="none" stroke="#1261b0" stroke-width="1.6"/>
<circle cx="483.4" cy="431.4" r="2" fill="none" stroke="#1261b0" stroke-width="1.6"/>
<circle cx="503" cy="431.4" r="2" fill="none" stroke="#1261b0" stroke-width="1.6"/>
<circle cx="504.4" cy="431.4" r="2" fill="none" stroke="#1261b0" stroke-width="1.6"/>
<circle cx="519.4" cy="431.4" r="2" fill="none" stroke="#1261b0" stroke-width="1.6"/>
<circle cx="578.3" cy="431.4" r="2" fill="none" stroke="#1261b0" stroke-width="1.6"/>
<circle cx="632.8" cy="431.4" r="2" fill="none" stroke="#1261b0" stroke-width="1.6"/>
<polygon points="504,433.9 509,433.9 506.5,428.7" fill="none" stroke="#1261b0" stroke-width="1.4" stroke-linejoin="miter"/>
<polygon points="516.3,433.9 521.3,433.9 518.8,428.7" fill="none" stroke="#1261b0" stroke-width="1.4" stroke-linejoin="miter"/>
<circle cx="172.4" cy="431.5" r="2" fill="none" stroke="#1261b0" stroke-width="1.6"/>
<polygon points="175,434 180,434 177.5,428.8" fill="none" stroke="#1261b0" stroke-width="1.4" stroke-linejoin="miter"/>
<circle cx="233" cy="431.5" r="2" fill="none" stroke="#1261b0" stroke-width="1.6"/>
<circle cx="297.3" cy="370.6" r="2" fill="none" stroke="#1261b0" stroke-width="1.6"/>
<circle cx="303.1" cy="370.6" r="2" fill="none" stroke="#1261b0" stroke-width="1.6"/>
<circle cx="319.6" cy="370.6" r="2" fill="none" stroke="#1261b0" stroke-width="1.6"/>
<circle cx="188.5" cy="441" r="2" fill="none" stroke="#1261b0" stroke-width="1.6"/>
<polygon points="232.1,443.5 237.1,443.5 234.6,438.3" fill="none" stroke="#1261b0" stroke-width="1.4" stroke-linejoin="miter"/>
<polygon points="252.4,405.2 257.4,405.2 254.9,400" fill="none" stroke="#1261b0" stroke-width="1.4" stroke-linejoin="miter"/>
<polygon points="271.4,405.2 276.4,405.2 273.9,400" fill="none" stroke="#1261b0" stroke-width="1.4" stroke-linejoin="miter"/>
<polygon points="306,405.2 311,405.2 308.5,400" fill="none" stroke="#1261b0" stroke-width="1.4" stroke-linejoin="miter"/>
<polygon points="312.5,405.2 317.5,405.2 315,400" fill="none" stroke="#1261b0" stroke-width="1.4" stroke-linejoin="miter"/>
<polygon points="315.7,405.2 320.7,405.2 318.2,400" fill="none" stroke="#1261b0" stroke-width="1.4" stroke-linejoin="miter"/>
<circle cx="295.8" cy="402.7" r="2" fill="none" stroke="#1261b0" stroke-width="1.6"/>
<circle cx="387.6" cy="402.7" r="2" fill="none" stroke="#1261b0" stroke-width="1.6"/>
<polyline points="544,307 564.4,307" fill="none" stroke="#1261b0" stroke-width="2.4" stroke-linejoin="miter"/>
<polyline points="544,320.4 564.4,320.4" fill="none" stroke="#1261b0" stroke-width="2.4" stroke-dasharray="7.9 1.3 1.8 1.3" stroke-linejoin="miter"/>
<polyline points="544,333.7 564.4,333.7" fill="none" stroke="#1261b0" stroke-width="2.4" stroke-dasharray="1.5 1.4" stroke-linejoin="miter"/>
<polygon points="551.4,349.4 557,349.4 554.2,343.6" fill="white" stroke="#161616" stroke-width="1.7" stroke-linejoin="miter"/>
<circle cx="554.2" cy="358.6" r="2.2" fill="white" stroke="#161616" stroke-width="1.6"/>
<text x="571.4" y="310.4" font-size="10.2" fill="#161616" stroke="#161616">Early (0–3 days)</text>
<text x="571.4" y="324" font-size="10.2" fill="#161616" stroke="#161616">Late (4–6 days)</text>
<text x="571.4" y="338" font-size="10.2" fill="#161616" stroke="#161616">Very late (≥7 days)</text>
<text x="571.4" y="350" font-size="10.2" fill="#161616" stroke="#161616">Censored</text>
<text x="571.4" y="362.4" font-size="10.2" fill="#161616" stroke="#161616">Competing event</text>
<text x="12.3" y="530.2" font-size="10.5" fill="#161616" stroke="#161616">Number of patients with SR-aGVHD still with response</text>
<text x="12.3" y="589.5" font-size="10.3" fill="#161616" stroke="#161616">Cumulative number of competing events</text>
<text x="12.3" y="543.9" font-size="10.3" fill="#2d6fb8" stroke="#2d6fb8">Early (0–3 days)</text>
<text x="109.9" y="543.9" font-size="10.2" text-anchor="middle" fill="#2d6fb8" stroke="#2d6fb8">70</text>
<text x="185.18" y="543.9" font-size="10.2" text-anchor="middle" fill="#2d6fb8" stroke="#2d6fb8">54</text>
<text x="260.46" y="543.9" font-size="10.2" text-anchor="middle" fill="#2d6fb8" stroke="#2d6fb8">36</text>
<text x="335.74" y="543.9" font-size="10.2" text-anchor="middle" fill="#2d6fb8" stroke="#2d6fb8">19</text>
<text x="411.02" y="543.9" font-size="10.2" text-anchor="middle" fill="#2d6fb8" stroke="#2d6fb8">10</text>
<text x="486.3" y="543.9" font-size="10.2" text-anchor="middle" fill="#2d6fb8" stroke="#2d6fb8">7</text>
<text x="561.58" y="543.9" font-size="10.2" text-anchor="middle" fill="#2d6fb8" stroke="#2d6fb8">2</text>
<text x="636.86" y="543.9" font-size="10.2" text-anchor="middle" fill="#2d6fb8" stroke="#2d6fb8">0</text>
<text x="12.3" y="560.5" font-size="10.3" fill="#2d6fb8" stroke="#2d6fb8">Late (4–6 days)</text>
<text x="109.9" y="560.5" font-size="10.2" text-anchor="middle" fill="#2d6fb8" stroke="#2d6fb8">11</text>
<text x="185.18" y="560.5" font-size="10.2" text-anchor="middle" fill="#2d6fb8" stroke="#2d6fb8">5</text>
<text x="260.46" y="560.5" font-size="10.2" text-anchor="middle" fill="#2d6fb8" stroke="#2d6fb8">3</text>
<text x="335.74" y="560.5" font-size="10.2" text-anchor="middle" fill="#2d6fb8" stroke="#2d6fb8">0</text>
<text x="411.02" y="560.5" font-size="10.2" text-anchor="middle" fill="#2d6fb8" stroke="#2d6fb8">0</text>
<text x="486.3" y="560.5" font-size="10.2" text-anchor="middle" fill="#2d6fb8" stroke="#2d6fb8">0</text>
<text x="561.58" y="560.5" font-size="10.2" text-anchor="middle" fill="#2d6fb8" stroke="#2d6fb8">0</text>
<text x="636.86" y="560.5" font-size="10.2" text-anchor="middle" fill="#2d6fb8" stroke="#2d6fb8">0</text>
<text x="12.3" y="574.8" font-size="10.3" fill="#2d6fb8" stroke="#2d6fb8">Very late (≥7 days)</text>
<text x="109.9" y="574.8" font-size="10.2" text-anchor="middle" fill="#2d6fb8" stroke="#2d6fb8">15</text>
<text x="185.18" y="574.8" font-size="10.2" text-anchor="middle" fill="#2d6fb8" stroke="#2d6fb8">12</text>
<text x="260.46" y="574.8" font-size="10.2" text-anchor="middle" fill="#2d6fb8" stroke="#2d6fb8">8</text>
<text x="335.74" y="574.8" font-size="10.2" text-anchor="middle" fill="#2d6fb8" stroke="#2d6fb8">1</text>
<text x="411.02" y="574.8" font-size="10.2" text-anchor="middle" fill="#2d6fb8" stroke="#2d6fb8">0</text>
<text x="486.3" y="574.8" font-size="10.2" text-anchor="middle" fill="#2d6fb8" stroke="#2d6fb8">0</text>
<text x="561.58" y="574.8" font-size="10.2" text-anchor="middle" fill="#2d6fb8" stroke="#2d6fb8">0</text>
<text x="636.86" y="574.8" font-size="10.2" text-anchor="middle" fill="#2d6fb8" stroke="#2d6fb8">0</text>
<text x="12.3" y="603.6" font-size="10.3" fill="#2d6fb8" stroke="#2d6fb8">Early (0–3 days)</text>
<text x="112.4" y="603.6" font-size="10.2" text-anchor="middle" fill="#2d6fb8" stroke="#2d6fb8">0</text>
<text x="185.18" y="603.6" font-size="10.2" text-anchor="middle" fill="#2d6fb8" stroke="#2d6fb8">9</text>
<text x="260.46" y="603.6" font-size="10.2" text-anchor="middle" fill="#2d6fb8" stroke="#2d6fb8">20</text>
<text x="335.74" y="603.6" font-size="10.2" text-anchor="middle" fill="#2d6fb8" stroke="#2d6fb8">26</text>
<text x="411.02" y="603.6" font-size="10.2" text-anchor="middle" fill="#2d6fb8" stroke="#2d6fb8">33</text>
<text x="486.3" y="603.6" font-size="10.2" text-anchor="middle" fill="#2d6fb8" stroke="#2d6fb8">36</text>
<text x="561.58" y="603.6" font-size="10.2" text-anchor="middle" fill="#2d6fb8" stroke="#2d6fb8">39</text>
<text x="636.86" y="603.6" font-size="10.2" text-anchor="middle" fill="#2d6fb8" stroke="#2d6fb8">41</text>
<text x="12.3" y="618.3" font-size="10.3" fill="#2d6fb8" stroke="#2d6fb8">Late (4–6 days)</text>
<text x="112.4" y="618.3" font-size="10.2" text-anchor="middle" fill="#2d6fb8" stroke="#2d6fb8">0</text>
<text x="185.18" y="618.3" font-size="10.2" text-anchor="middle" fill="#2d6fb8" stroke="#2d6fb8">3</text>
<text x="260.46" y="618.3" font-size="10.2" text-anchor="middle" fill="#2d6fb8" stroke="#2d6fb8">4</text>
<text x="335.74" y="618.3" font-size="10.2" text-anchor="middle" fill="#2d6fb8" stroke="#2d6fb8">7</text>
<text x="12.3" y="632.6" font-size="10.3" fill="#2d6fb8" stroke="#2d6fb8">Very late (≥7 days)</text>
<text x="112.4" y="632.6" font-size="10.2" text-anchor="middle" fill="#2d6fb8" stroke="#2d6fb8">0</text>
<text x="185.18" y="632.6" font-size="10.2" text-anchor="middle" fill="#2d6fb8" stroke="#2d6fb8">1</text>
<text x="260.46" y="632.6" font-size="10.2" text-anchor="middle" fill="#2d6fb8" stroke="#2d6fb8">2</text>
<text x="335.74" y="632.6" font-size="10.2" text-anchor="middle" fill="#2d6fb8" stroke="#2d6fb8">4</text>
<text x="411.02" y="632.6" font-size="10.2" text-anchor="middle" fill="#2d6fb8" stroke="#2d6fb8">5</text>
<text x="-0.2" y="971.9" font-size="22" font-weight="bold" fill="#000" stroke="#000">d</text>
<line x1="99.3" y1="969.3" x2="99.3" y2="973" stroke="#161616" stroke-width="1.3"/>
<line x1="99.3" y1="978.5" x2="99.3" y2="1143" stroke="#3a3a3a" stroke-width="1.5"/>
<line x1="95.3" y1="975.7" x2="103.6" y2="971.3" stroke="#161616" stroke-width="1.2"/>
<line x1="95.3" y1="980.5" x2="103.6" y2="975.7" stroke="#161616" stroke-width="1.2"/>
<line x1="94.5" y1="969.3" x2="99.9" y2="969.3" stroke="#161616" stroke-width="1.2"/>
<text x="87.2" y="972.9" font-size="12" text-anchor="end" fill="#161616" stroke="#161616">100</text>
<line x1="95" y1="1138.9" x2="99.3" y2="1138.9" stroke="#161616" stroke-width="1.2"/>
<text x="87.2" y="1142.5" font-size="12" text-anchor="end" fill="#161616" stroke="#161616">0</text>
<line x1="95" y1="1125.85" x2="99.3" y2="1125.85" stroke="#161616" stroke-width="1.2"/>
<text x="87.2" y="1129.45" font-size="12" text-anchor="end" fill="#161616" stroke="#161616">5</text>
<line x1="95" y1="1112.8" x2="99.3" y2="1112.8" stroke="#161616" stroke-width="1.2"/>
<text x="87.2" y="1116.4" font-size="12" text-anchor="end" fill="#161616" stroke="#161616">10</text>
<line x1="95" y1="1099.75" x2="99.3" y2="1099.75" stroke="#161616" stroke-width="1.2"/>
<text x="87.2" y="1103.35" font-size="12" text-anchor="end" fill="#161616" stroke="#161616">15</text>
<line x1="95" y1="1086.7" x2="99.3" y2="1086.7" stroke="#161616" stroke-width="1.2"/>
<text x="87.2" y="1090.3" font-size="12" text-anchor="end" fill="#161616" stroke="#161616">20</text>
<line x1="95" y1="1073.65" x2="99.3" y2="1073.65" stroke="#161616" stroke-width="1.2"/>
<text x="87.2" y="1077.25" font-size="12" text-anchor="end" fill="#161616" stroke="#161616">25</text>
<line x1="95" y1="1060.6" x2="99.3" y2="1060.6" stroke="#161616" stroke-width="1.2"/>
<text x="87.2" y="1064.2" font-size="12" text-anchor="end" fill="#161616" stroke="#161616">30</text>
<line x1="95" y1="1047.55" x2="99.3" y2="1047.55" stroke="#161616" stroke-width="1.2"/>
<text x="87.2" y="1051.15" font-size="12" text-anchor="end" fill="#161616" stroke="#161616">35</text>
<line x1="95" y1="1034.5" x2="99.3" y2="1034.5" stroke="#161616" stroke-width="1.2"/>
<text x="87.2" y="1038.1" font-size="12" text-anchor="end" fill="#161616" stroke="#161616">40</text>
<line x1="95" y1="1021.45" x2="99.3" y2="1021.45" stroke="#161616" stroke-width="1.2"/>
<text x="87.2" y="1025.05" font-size="12" text-anchor="end" fill="#161616" stroke="#161616">45</text>
<line x1="95" y1="1008.4" x2="99.3" y2="1008.4" stroke="#161616" stroke-width="1.2"/>
<text x="87.2" y="1012" font-size="12" text-anchor="end" fill="#161616" stroke="#161616">50</text>
<line x1="95" y1="995.35" x2="99.3" y2="995.35" stroke="#161616" stroke-width="1.2"/>
<text x="87.2" y="998.95" font-size="12" text-anchor="end" fill="#161616" stroke="#161616">55</text>
<line x1="95" y1="982.3" x2="99.3" y2="982.3" stroke="#161616" stroke-width="1.2"/>
<text x="87.2" y="985.9" font-size="12" text-anchor="end" fill="#161616" stroke="#161616">60</text>
<text transform="translate(57.3 1055.5) rotate(-90)" font-size="12.25" text-anchor="middle" fill="#161616" stroke="#161616">Probability of loss of response, %</text>
<line x1="98.6" y1="1142.3" x2="663.7" y2="1142.3" stroke="#3a3a3a" stroke-width="1.5"/>
<line x1="109.6" y1="1142.3" x2="109.6" y2="1146.3" stroke="#161616" stroke-width="1.2"/>
<text x="109.6" y="1164.2" font-size="12" text-anchor="middle" fill="#161616" stroke="#161616">0</text>
<line x1="148.42" y1="1142.3" x2="148.42" y2="1146.3" stroke="#161616" stroke-width="1.2"/>
<text x="148.42" y="1164.2" font-size="12" text-anchor="middle" fill="#161616" stroke="#161616">2</text>
<line x1="187.24" y1="1142.3" x2="187.24" y2="1146.3" stroke="#161616" stroke-width="1.2"/>
<text x="187.24" y="1164.2" font-size="12" text-anchor="middle" fill="#161616" stroke="#161616">4</text>
<line x1="226.06" y1="1142.3" x2="226.06" y2="1146.3" stroke="#161616" stroke-width="1.2"/>
<text x="226.06" y="1164.2" font-size="12" text-anchor="middle" fill="#161616" stroke="#161616">6</text>
<line x1="264.88" y1="1142.3" x2="264.88" y2="1146.3" stroke="#161616" stroke-width="1.2"/>
<text x="264.88" y="1164.2" font-size="12" text-anchor="middle" fill="#161616" stroke="#161616">8</text>
<line x1="303.7" y1="1142.3" x2="303.7" y2="1146.3" stroke="#161616" stroke-width="1.2"/>
<text x="303.7" y="1164.2" font-size="12" text-anchor="middle" fill="#161616" stroke="#161616">10</text>
<line x1="342.52" y1="1142.3" x2="342.52" y2="1146.3" stroke="#161616" stroke-width="1.2"/>
<text x="342.52" y="1164.2" font-size="12" text-anchor="middle" fill="#161616" stroke="#161616">12</text>
<line x1="381.34" y1="1142.3" x2="381.34" y2="1146.3" stroke="#161616" stroke-width="1.2"/>
<text x="381.34" y="1164.2" font-size="12" text-anchor="middle" fill="#161616" stroke="#161616">14</text>
<line x1="420.16" y1="1142.3" x2="420.16" y2="1146.3" stroke="#161616" stroke-width="1.2"/>
<text x="420.16" y="1164.2" font-size="12" text-anchor="middle" fill="#161616" stroke="#161616">16</text>
<line x1="458.98" y1="1142.3" x2="458.98" y2="1146.3" stroke="#161616" stroke-width="1.2"/>
<text x="458.98" y="1164.2" font-size="12" text-anchor="middle" fill="#161616" stroke="#161616">18</text>
<line x1="497.8" y1="1142.3" x2="497.8" y2="1146.3" stroke="#161616" stroke-width="1.2"/>
<text x="497.8" y="1164.2" font-size="12" text-anchor="middle" fill="#161616" stroke="#161616">20</text>
<line x1="536.62" y1="1142.3" x2="536.62" y2="1146.3" stroke="#161616" stroke-width="1.2"/>
<text x="536.62" y="1164.2" font-size="12" text-anchor="middle" fill="#161616" stroke="#161616">22</text>
<line x1="575.44" y1="1142.3" x2="575.44" y2="1146.3" stroke="#161616" stroke-width="1.2"/>
<text x="575.44" y="1164.2" font-size="12" text-anchor="middle" fill="#161616" stroke="#161616">24</text>
<line x1="614.26" y1="1142.3" x2="614.26" y2="1146.3" stroke="#161616" stroke-width="1.2"/>
<text x="614.26" y="1164.2" font-size="12" text-anchor="middle" fill="#161616" stroke="#161616">26</text>
<line x1="653.08" y1="1142.3" x2="653.08" y2="1146.3" stroke="#161616" stroke-width="1.2"/>
<text x="653.08" y="1164.2" font-size="12" text-anchor="middle" fill="#161616" stroke="#161616">28</text>
<text x="336.4" y="1186.4" font-size="12.2" fill="#161616" stroke="#161616">Time, months</text>
<polyline points="109.8,1139.8 120.5,1139.8 120.5,1124.8 131.8,1124.8 131.8,1117.3 160.5,1117.3 160.5,1110 165,1110 165,1100.9 195.9,1100.9 195.9,1092.1 221,1092.1 221,1062.3 271.8,1062.3 271.8,1051.8 293,1051.8 293,1041.8 621,1041.8" fill="none" stroke="#962b1a" stroke-width="2" stroke-dasharray="1.4 1.3" stroke-linejoin="miter"/>
<polyline points="109.8,1139.8 118.5,1139.8 118.5,1129 131.5,1129 131.5,1117.3 137.8,1117.3 137.8,1107.5 160.8,1107.5 160.8,1095.6 172.5,1095.6 172.5,1084.5 184.2,1084.5 184.2,1073.4 218.1,1073.4 218.1,1062.3 269,1062.3 269,1041.8 611,1041.8" fill="none" stroke="#962b1a" stroke-width="2" stroke-dasharray="16 2 1.5 2" stroke-linejoin="miter" stroke-dashoffset="13.5"/>
<polyline points="109.8,1139.8 126.9,1139.8 126.9,1135.7 137.4,1135.7 137.4,1132.5 152.7,1132.5 152.7,1124.8 154.9,1124.8 154.9,1121 176,1121 176,1116.6 200,1116.6 200,1112 209.9,1112 209.9,1106.7 212.2,1106.7 212.2,1100.3 214,1100.3 214,1092.3 228.9,1092.3 228.9,1088 232.4,1088 232.4,1083.8 242.5,1083.8 242.5,1079.6 246.3,1079.6 246.3,1075.7 332.8,1075.7 332.8,1070.4 342.4,1070.4 342.4,1064.8 379.2,1064.8 379.2,1057.5 436.6,1057.5 436.6,1046.8 502.3,1046.8 502.3,1022.6 552.6,1022.6" fill="none" stroke="#962b1a" stroke-width="2" stroke-linejoin="miter"/>
<polygon points="146.9,1135.3 153.3,1135.3 150.1,1128.7" fill="none" stroke="#962b1a" stroke-width="1" stroke-linejoin="miter"/>
<polygon points="232.1,1086.6 238.5,1086.6 235.3,1080" fill="none" stroke="#962b1a" stroke-width="1" stroke-linejoin="miter"/>
<polygon points="240.8,1082.4 247.2,1082.4 244,1075.8" fill="none" stroke="#962b1a" stroke-width="1" stroke-linejoin="miter"/>
<polygon points="242.2,1080.8 248.6,1080.8 245.4,1074.2" fill="none" stroke="#962b1a" stroke-width="1" stroke-linejoin="miter"/>
<polygon points="247.2,1078.5 253.6,1078.5 250.4,1071.9" fill="none" stroke="#962b1a" stroke-width="1" stroke-linejoin="miter"/>
<polygon points="249.8,1078.5 256.2,1078.5 253,1071.9" fill="none" stroke="#962b1a" stroke-width="1" stroke-linejoin="miter"/>
<polygon points="262.1,1078.5 268.5,1078.5 265.3,1071.9" fill="none" stroke="#962b1a" stroke-width="1" stroke-linejoin="miter"/>
<polygon points="284,1078.5 290.4,1078.5 287.2,1071.9" fill="none" stroke="#962b1a" stroke-width="1" stroke-linejoin="miter"/>
<polygon points="295.6,1078.5 302,1078.5 298.8,1071.9" fill="none" stroke="#962b1a" stroke-width="1" stroke-linejoin="miter"/>
<polygon points="304.4,1078.5 310.8,1078.5 307.6,1071.9" fill="none" stroke="#962b1a" stroke-width="1" stroke-linejoin="miter"/>
<polygon points="307.7,1078.5 314.1,1078.5 310.9,1071.9" fill="none" stroke="#962b1a" stroke-width="1" stroke-linejoin="miter"/>
<polygon points="314.7,1078.5 321.1,1078.5 317.9,1071.9" fill="none" stroke="#962b1a" stroke-width="1" stroke-linejoin="miter"/>
<polygon points="326.1,1078.5 332.5,1078.5 329.3,1071.9" fill="none" stroke="#962b1a" stroke-width="1" stroke-linejoin="miter"/>
<polygon points="334.8,1073.2 341.2,1073.2 338,1066.6" fill="none" stroke="#962b1a" stroke-width="1" stroke-linejoin="miter"/>
<polygon points="338.3,1073.2 344.7,1073.2 341.5,1066.6" fill="none" stroke="#962b1a" stroke-width="1" stroke-linejoin="miter"/>
<polygon points="346.2,1067.6 352.6,1067.6 349.4,1061" fill="none" stroke="#962b1a" stroke-width="1" stroke-linejoin="miter"/>
<polygon points="352,1067.6 358.4,1067.6 355.2,1061" fill="none" stroke="#962b1a" stroke-width="1" stroke-linejoin="miter"/>
<polygon points="357.3,1067.6 363.7,1067.6 360.5,1061" fill="none" stroke="#962b1a" stroke-width="1" stroke-linejoin="miter"/>
<polygon points="378.6,1060.3 385,1060.3 381.8,1053.7" fill="none" stroke="#962b1a" stroke-width="1" stroke-linejoin="miter"/>
<polygon points="392.6,1060.3 399,1060.3 395.8,1053.7" fill="none" stroke="#962b1a" stroke-width="1" stroke-linejoin="miter"/>
<polygon points="397,1060.3 403.4,1060.3 400.2,1053.7" fill="none" stroke="#962b1a" stroke-width="1" stroke-linejoin="miter"/>
<polygon points="402.2,1060.3 408.6,1060.3 405.4,1053.7" fill="none" stroke="#962b1a" stroke-width="1" stroke-linejoin="miter"/>
<polygon points="410.2,1060.3 416.6,1060.3 413.4,1053.7" fill="none" stroke="#962b1a" stroke-width="1" stroke-linejoin="miter"/>
<polygon points="416.3,1060.3 422.7,1060.3 419.5,1053.7" fill="none" stroke="#962b1a" stroke-width="1" stroke-linejoin="miter"/>
<polygon points="418.9,1060.3 425.3,1060.3 422.1,1053.7" fill="none" stroke="#962b1a" stroke-width="1" stroke-linejoin="miter"/>
<polygon points="429.1,1060.3 435.5,1060.3 432.3,1053.7" fill="none" stroke="#962b1a" stroke-width="1" stroke-linejoin="miter"/>
<polygon points="433.4,1049.6 439.8,1049.6 436.6,1043" fill="none" stroke="#962b1a" stroke-width="1" stroke-linejoin="miter"/>
<polygon points="436.9,1049.6 443.3,1049.6 440.1,1043" fill="none" stroke="#962b1a" stroke-width="1" stroke-linejoin="miter"/>
<polygon points="446.6,1049.6 453,1049.6 449.8,1043" fill="none" stroke="#962b1a" stroke-width="1" stroke-linejoin="miter"/>
<polygon points="460.6,1049.6 467,1049.6 463.8,1043" fill="none" stroke="#962b1a" stroke-width="1" stroke-linejoin="miter"/>
<polygon points="468.5,1049.6 474.9,1049.6 471.7,1043" fill="none" stroke="#962b1a" stroke-width="1" stroke-linejoin="miter"/>
<polygon points="477.2,1049.6 483.6,1049.6 480.4,1043" fill="none" stroke="#962b1a" stroke-width="1" stroke-linejoin="miter"/>
<polygon points="503.5,1025.4 509.9,1025.4 506.7,1018.8" fill="none" stroke="#962b1a" stroke-width="1" stroke-linejoin="miter"/>
<polygon points="508.8,1025.4 515.2,1025.4 512,1018.8" fill="none" stroke="#962b1a" stroke-width="1" stroke-linejoin="miter"/>
<polygon points="517.5,1025.4 523.9,1025.4 520.7,1018.8" fill="none" stroke="#962b1a" stroke-width="1" stroke-linejoin="miter"/>
<polygon points="522.8,1025.4 529.2,1025.4 526,1018.8" fill="none" stroke="#962b1a" stroke-width="1" stroke-linejoin="miter"/>
<polygon points="530.3,1025.4 536.7,1025.4 533.5,1018.8" fill="none" stroke="#962b1a" stroke-width="1" stroke-linejoin="miter"/>
<polygon points="549.2,1025.4 555.6,1025.4 552.4,1018.8" fill="none" stroke="#962b1a" stroke-width="1" stroke-linejoin="miter"/>
<polygon points="295.6,1044.6 302,1044.6 298.8,1038" fill="none" stroke="#962b1a" stroke-width="1" stroke-linejoin="miter"/>
<polygon points="327.8,1044.6 334.2,1044.6 331,1038" fill="none" stroke="#962b1a" stroke-width="1" stroke-linejoin="miter"/>
<polygon points="339.2,1044.6 345.6,1044.6 342.4,1038" fill="none" stroke="#962b1a" stroke-width="1" stroke-linejoin="miter"/>
<polygon points="347.1,1044.6 353.5,1044.6 350.3,1038" fill="none" stroke="#962b1a" stroke-width="1" stroke-linejoin="miter"/>
<polygon points="392.6,1044.6 399,1044.6 395.8,1038" fill="none" stroke="#962b1a" stroke-width="1" stroke-linejoin="miter"/>
<polygon points="397.3,1044.6 403.7,1044.6 400.5,1038" fill="none" stroke="#962b1a" stroke-width="1" stroke-linejoin="miter"/>
<polygon points="402.3,1044.6 408.7,1044.6 405.5,1038" fill="none" stroke="#962b1a" stroke-width="1" stroke-linejoin="miter"/>
<polygon points="407.8,1044.6 414.2,1044.6 411,1038" fill="none" stroke="#962b1a" stroke-width="1" stroke-linejoin="miter"/>
<polygon points="411.9,1044.6 418.3,1044.6 415.1,1038" fill="none" stroke="#962b1a" stroke-width="1" stroke-linejoin="miter"/>
<polygon points="422.9,1044.6 429.3,1044.6 426.1,1038" fill="none" stroke="#962b1a" stroke-width="1" stroke-linejoin="miter"/>
<polygon points="476.4,1044.6 482.8,1044.6 479.6,1038" fill="none" stroke="#962b1a" stroke-width="1" stroke-linejoin="miter"/>
<polygon points="479,1044.6 485.4,1044.6 482.2,1038" fill="none" stroke="#962b1a" stroke-width="1" stroke-linejoin="miter"/>
<polygon points="500.9,1044.6 507.3,1044.6 504.1,1038" fill="none" stroke="#962b1a" stroke-width="1" stroke-linejoin="miter"/>
<polygon points="513.2,1044.6 519.6,1044.6 516.4,1038" fill="none" stroke="#962b1a" stroke-width="1" stroke-linejoin="miter"/>
<polygon points="519.3,1044.6 525.7,1044.6 522.5,1038" fill="none" stroke="#962b1a" stroke-width="1" stroke-linejoin="miter"/>
<polygon points="561,1044.6 567.4,1044.6 564.2,1038" fill="none" stroke="#962b1a" stroke-width="1" stroke-linejoin="miter"/>
<polygon points="563.6,1044.6 570,1044.6 566.8,1038" fill="none" stroke="#962b1a" stroke-width="1" stroke-linejoin="miter"/>
<polygon points="571.5,1044.6 577.9,1044.6 574.7,1038" fill="none" stroke="#962b1a" stroke-width="1" stroke-linejoin="miter"/>
<polygon points="574.3,1044.6 580.7,1044.6 577.5,1038" fill="none" stroke="#962b1a" stroke-width="1" stroke-linejoin="miter"/>
<polygon points="576.8,1044.6 583.2,1044.6 580,1038" fill="none" stroke="#962b1a" stroke-width="1" stroke-linejoin="miter"/>
<polygon points="601.3,1044.6 607.7,1044.6 604.5,1038" fill="none" stroke="#962b1a" stroke-width="1" stroke-linejoin="miter"/>
<polygon points="606.5,1044.6 612.9,1044.6 609.7,1038" fill="none" stroke="#962b1a" stroke-width="1" stroke-linejoin="miter"/>
<polygon points="617,1044.6 623.4,1044.6 620.2,1038" fill="none" stroke="#962b1a" stroke-width="1" stroke-linejoin="miter"/>
<polygon points="218.3,1065.1 224.7,1065.1 221.5,1058.5" fill="none" stroke="#962b1a" stroke-width="1" stroke-linejoin="miter"/>
<polygon points="224.8,1065.1 231.2,1065.1 228,1058.5" fill="none" stroke="#962b1a" stroke-width="1" stroke-linejoin="miter"/>
<polygon points="240.2,1065.1 246.6,1065.1 243.4,1058.5" fill="none" stroke="#962b1a" stroke-width="1" stroke-linejoin="miter"/>
<polygon points="243.8,1065.1 250.2,1065.1 247,1058.5" fill="none" stroke="#962b1a" stroke-width="1" stroke-linejoin="miter"/>
<polygon points="254,1065.1 260.4,1065.1 257.2,1058.5" fill="none" stroke="#962b1a" stroke-width="1" stroke-linejoin="miter"/>
<polygon points="270.1,1054.6 276.5,1054.6 273.3,1048" fill="none" stroke="#962b1a" stroke-width="1" stroke-linejoin="miter"/>
<polygon points="195.6,1076.2 202,1076.2 198.8,1069.6" fill="none" stroke="#962b1a" stroke-width="1" stroke-linejoin="miter"/>
<polygon points="178.7,1103.7 185.1,1103.7 181.9,1097.1" fill="none" stroke="#962b1a" stroke-width="1" stroke-linejoin="miter"/>
<polygon points="181.6,1103.7 188,1103.7 184.8,1097.1" fill="none" stroke="#962b1a" stroke-width="1" stroke-linejoin="miter"/>
<polygon points="195.6,1094.9 202,1094.9 198.8,1088.3" fill="none" stroke="#962b1a" stroke-width="1" stroke-linejoin="miter"/>
<polygon points="199.7,1094.9 206.1,1094.9 202.9,1088.3" fill="none" stroke="#962b1a" stroke-width="1" stroke-linejoin="miter"/>
<polygon points="142.1,1120.1 148.5,1120.1 145.3,1113.5" fill="none" stroke="#962b1a" stroke-width="1" stroke-linejoin="miter"/>
<polygon points="161.7,1111.8 168.1,1111.8 164.9,1105.2" fill="none" stroke="#962b1a" stroke-width="1" stroke-linejoin="miter"/>
<polygon points="167,1098.4 173.4,1098.4 170.2,1091.8" fill="none" stroke="#962b1a" stroke-width="1" stroke-linejoin="miter"/>
<polyline points="544,970.8 564.4,970.8" fill="none" stroke="#962b1a" stroke-width="2.2" stroke-linejoin="miter"/>
<polyline points="544,982.2 564.4,982.2" fill="none" stroke="#962b1a" stroke-width="2.2" stroke-dasharray="7.9 1.3 1.8 1.3" stroke-linejoin="miter"/>
<polyline points="544,993.5 564.4,993.5" fill="none" stroke="#962b1a" stroke-width="2.2" stroke-dasharray="1.4 1.3" stroke-linejoin="miter"/>
<polygon points="551.4,1006.7 557,1006.7 554.2,1000.9" fill="white" stroke="#161616" stroke-width="1.7" stroke-linejoin="miter"/>
<text x="571.4" y="973.1" font-size="10.2" fill="#161616" stroke="#161616">Early (≤14 days)</text>
<text x="571.4" y="984.4" font-size="10.2" fill="#161616" stroke="#161616">Late (14–28 days)</text>
<text x="571.4" y="995.3" font-size="10.2" fill="#161616" stroke="#161616">Very late (>28 days)</text>
<text x="571.4" y="1006.4" font-size="10.2" fill="#161616" stroke="#161616">Censored</text>
<text x="1.5" y="1202.6" font-size="10.4" fill="#161616" stroke="#161616">Number of patients with SR-cGVHD still with response</text>
<text x="1.5" y="1217.6" font-size="10.2" fill="#a23d2c" stroke="#a23d2c">Early (≤14 days)</text>
<text x="109.1" y="1217.6" font-size="10.2" text-anchor="middle" fill="#a23d2c" stroke="#a23d2c">68</text>
<text x="148.01" y="1217.6" font-size="10.2" text-anchor="middle" fill="#a23d2c" stroke="#a23d2c">66</text>
<text x="186.92" y="1217.6" font-size="10.2" text-anchor="middle" fill="#a23d2c" stroke="#a23d2c">59</text>
<text x="225.83" y="1217.6" font-size="10.2" text-anchor="middle" fill="#a23d2c" stroke="#a23d2c">53</text>
<text x="264.74" y="1217.6" font-size="10.2" text-anchor="middle" fill="#a23d2c" stroke="#a23d2c">44</text>
<text x="303.65" y="1217.6" font-size="10.2" text-anchor="middle" fill="#a23d2c" stroke="#a23d2c">41</text>
<text x="342.56" y="1217.6" font-size="10.2" text-anchor="middle" fill="#a23d2c" stroke="#a23d2c">33</text>
<text x="381.47" y="1217.6" font-size="10.2" text-anchor="middle" fill="#a23d2c" stroke="#a23d2c">27</text>
<text x="420.38" y="1217.6" font-size="10.2" text-anchor="middle" fill="#a23d2c" stroke="#a23d2c">20</text>
<text x="459.29" y="1217.6" font-size="10.2" text-anchor="middle" fill="#a23d2c" stroke="#a23d2c">11</text>
<text x="498.2" y="1217.6" font-size="10.2" text-anchor="middle" fill="#a23d2c" stroke="#a23d2c">7</text>
<text x="537.11" y="1217.6" font-size="10.2" text-anchor="middle" fill="#a23d2c" stroke="#a23d2c">1</text>
<text x="576.02" y="1217.6" font-size="10.2" text-anchor="middle" fill="#a23d2c" stroke="#a23d2c">0</text>
<text x="614.93" y="1217.6" font-size="10.2" text-anchor="middle" fill="#a23d2c" stroke="#a23d2c">0</text>
<text x="653.84" y="1217.6" font-size="10.2" text-anchor="middle" fill="#a23d2c" stroke="#a23d2c">0</text>
<text x="1.5" y="1232.4" font-size="10.2" fill="#a23d2c" stroke="#a23d2c">Late (14–28 days)</text>
<text x="109.1" y="1232.4" font-size="10.2" text-anchor="middle" fill="#a23d2c" stroke="#a23d2c">24</text>
<text x="148.01" y="1232.4" font-size="10.2" text-anchor="middle" fill="#a23d2c" stroke="#a23d2c">21</text>
<text x="186.92" y="1232.4" font-size="10.2" text-anchor="middle" fill="#a23d2c" stroke="#a23d2c">17</text>
<text x="225.83" y="1232.4" font-size="10.2" text-anchor="middle" fill="#a23d2c" stroke="#a23d2c">14</text>
<text x="264.74" y="1232.4" font-size="10.2" text-anchor="middle" fill="#a23d2c" stroke="#a23d2c">9</text>
<text x="303.65" y="1232.4" font-size="10.2" text-anchor="middle" fill="#a23d2c" stroke="#a23d2c">7</text>
<text x="342.56" y="1232.4" font-size="10.2" text-anchor="middle" fill="#a23d2c" stroke="#a23d2c">7</text>
<text x="381.47" y="1232.4" font-size="10.2" text-anchor="middle" fill="#a23d2c" stroke="#a23d2c">7</text>
<text x="420.38" y="1232.4" font-size="10.2" text-anchor="middle" fill="#a23d2c" stroke="#a23d2c">7</text>
<text x="459.29" y="1232.4" font-size="10.2" text-anchor="middle" fill="#a23d2c" stroke="#a23d2c">7</text>
<text x="498.2" y="1232.4" font-size="10.2" text-anchor="middle" fill="#a23d2c" stroke="#a23d2c">6</text>
<text x="537.11" y="1232.4" font-size="10.2" text-anchor="middle" fill="#a23d2c" stroke="#a23d2c">4</text>
<text x="576.02" y="1232.4" font-size="10.2" text-anchor="middle" fill="#a23d2c" stroke="#a23d2c">2</text>
<text x="614.93" y="1232.4" font-size="10.2" text-anchor="middle" fill="#a23d2c" stroke="#a23d2c">0</text>
<text x="653.84" y="1232.4" font-size="10.2" text-anchor="middle" fill="#a23d2c" stroke="#a23d2c">0</text>
<text x="1.5" y="1246.8" font-size="10.2" fill="#a23d2c" stroke="#a23d2c">Very late (>28 days)</text>
<text x="109.1" y="1246.8" font-size="10.2" text-anchor="middle" fill="#a23d2c" stroke="#a23d2c">34</text>
<text x="148.01" y="1246.8" font-size="10.2" text-anchor="middle" fill="#a23d2c" stroke="#a23d2c">30</text>
<text x="186.92" y="1246.8" font-size="10.2" text-anchor="middle" fill="#a23d2c" stroke="#a23d2c">25</text>
<text x="225.83" y="1246.8" font-size="10.2" text-anchor="middle" fill="#a23d2c" stroke="#a23d2c">18</text>
<text x="264.74" y="1246.8" font-size="10.2" text-anchor="middle" fill="#a23d2c" stroke="#a23d2c">18</text>
<text x="303.65" y="1246.8" font-size="10.2" text-anchor="middle" fill="#a23d2c" stroke="#a23d2c">15</text>
<text x="342.56" y="1246.8" font-size="10.2" text-anchor="middle" fill="#a23d2c" stroke="#a23d2c">13</text>
<text x="381.47" y="1246.8" font-size="10.2" text-anchor="middle" fill="#a23d2c" stroke="#a23d2c">12</text>
<text x="420.38" y="1246.8" font-size="10.2" text-anchor="middle" fill="#a23d2c" stroke="#a23d2c">7</text>
<text x="459.29" y="1246.8" font-size="10.2" text-anchor="middle" fill="#a23d2c" stroke="#a23d2c">6</text>
<text x="498.2" y="1246.8" font-size="10.2" text-anchor="middle" fill="#a23d2c" stroke="#a23d2c">5</text>
<text x="537.11" y="1246.8" font-size="10.2" text-anchor="middle" fill="#a23d2c" stroke="#a23d2c">4</text>
<text x="576.02" y="1246.8" font-size="10.2" text-anchor="middle" fill="#a23d2c" stroke="#a23d2c">3</text>
<text x="614.93" y="1246.8" font-size="10.2" text-anchor="middle" fill="#a23d2c" stroke="#a23d2c">1</text>
<text x="653.84" y="1246.8" font-size="10.2" text-anchor="middle" fill="#a23d2c" stroke="#a23d2c">0</text>
</svg>
</body></html>
